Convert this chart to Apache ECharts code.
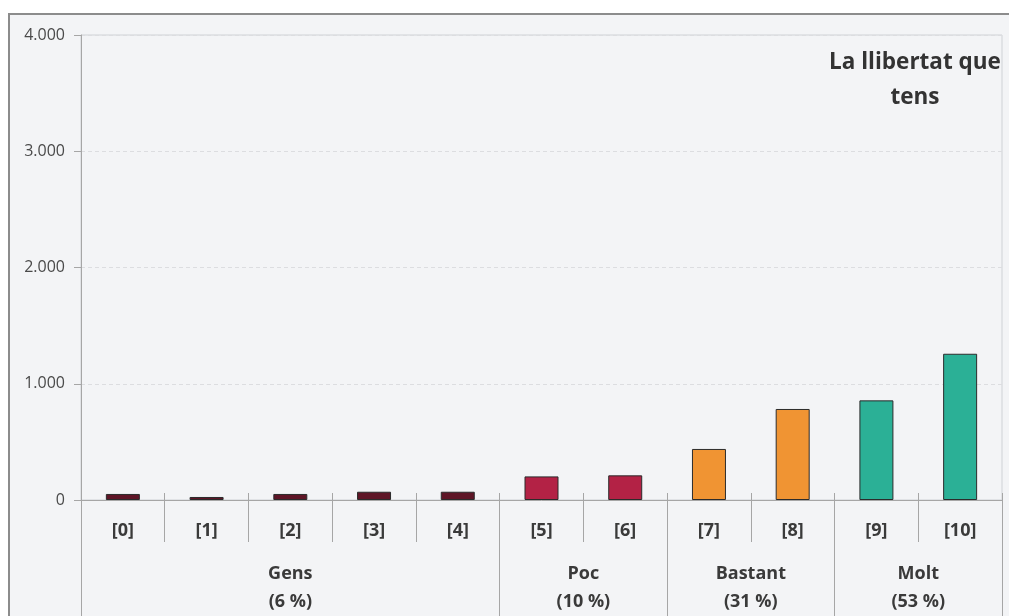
<!DOCTYPE html>
<html>
<head>
<meta charset="utf-8">
<script src="https://cdn.jsdelivr.net/npm/echarts@6/dist/echarts.min.js"></script>
<style>
  html, body { margin: 0; padding: 0; background: #ffffff; }
  #frame {
    position: absolute; left: 8px; top: 13px; width: 1010px; height: 610px;
    border-left: 2px solid #8c8c8c; border-top: 2px solid #8c8c8c;
    background: #f3f4f6;
  }
  #main { position: absolute; left: 0; top: 0; width: 1009px; height: 616px; }
</style>
</head>
<body>
<div id="frame"></div>
<div id="main"></div>
<script>
// categories (scores 0-10)
var categories = ['[0]', '[1]', '[2]', '[3]', '[4]', '[5]', '[6]', '[7]', '[8]', '[9]', '[10]'];
// number of answers per score
var values = [52, 26, 52, 71, 71, 203, 212, 439, 783, 857, 1258];
// group of each score
var groupOf = [0, 0, 0, 0, 0, 1, 1, 2, 2, 3, 3];
var groupNames = ['Gens', 'Poc', 'Bastant', 'Molt'];
var groupPct = ['6 %', '10 %', '31 %', '53 %'];
var groupColors = ['#5e1526', '#b32245', '#f09433', '#2bb096'];
// group limits on the category scale
var groupBounds = [0, 5, 7, 9, 11];
var yTicks = [0, 1000, 2000, 3000, 4000];

var groupCenters = [];
for (var g = 0; g < groupNames.length; g++) {
  groupCenters.push((groupBounds[g] + groupBounds[g + 1]) / 2);
}

var chart = echarts.init(document.getElementById('main'));

var fontLab = '"Open Sans", sans-serif';

chart.setOption({
  backgroundColor: 'transparent',
  animation: false,
  title: {
    text: 'La llibertat que\ntens',
    left: 910,
    top: 40,
    textAlign: 'center',
    textStyle: {
      fontFamily: fontLab,
      fontSize: 22.5,
      fontWeight: 'bold',
      lineHeight: 35,
      color: '#333333',
      align: 'center'
    }
  },
  grid: {
    left: 81,
    right: 7,
    top: 35,
    bottom: 116,
    show: true,
    borderColor: '#cfd2d6',
    borderWidth: 1
  },
  xAxis: [{
    // score labels
    type: 'category',
    data: categories,
    position: 'bottom',
    axisLine: { lineStyle: { color: '#a6a6a6', width: 1 } },
    axisTick: { show: true, interval: 0, length: 42, lineStyle: { color: '#a6a6a6' } },
    axisLabel: {
      interval: 0,
      margin: 22,
      fontFamily: fontLab,
      fontSize: 18,
      fontWeight: 'bold',
      color: '#3a3a3a'
    },
    splitLine: { show: false }
  }, {
    // small ticks above the axis
    type: 'category',
    data: categories,
    position: 'bottom',
    axisLine: { show: false },
    axisTick: { show: true, interval: 0, inside: true, length: 7, lineStyle: { color: '#a6a6a6' } },
    axisLabel: { show: false },
    splitLine: { show: false }
  }, {
    // groups
    type: 'value',
    min: 0,
    max: categories.length,
    position: 'bottom',
    axisLine: { show: false },
    axisTick: {
      show: true,
      customValues: groupBounds,
      length: 120,
      lineStyle: { color: '#a6a6a6' }
    },
    axisLabel: {
      customValues: groupCenters,
      margin: 60,
      fontFamily: fontLab,
      fontSize: 18,
      fontWeight: 'bold',
      lineHeight: 28,
      color: '#3a3a3a',
      formatter: function (v) {
        var i = groupCenters.indexOf(v);
        return groupNames[i] + '\n(' + groupPct[i] + ')';
      }
    },
    splitLine: { show: false }
  }],
  yAxis: {
    type: 'value',
    min: yTicks[0],
    max: yTicks[yTicks.length - 1],
    interval: 1000,
    axisLine: { show: true, lineStyle: { color: '#a6a6a6' } },
    axisTick: { show: true, length: 7, lineStyle: { color: '#a6a6a6' } },
    axisLabel: {
      margin: 16,
      fontFamily: '"Open Sans", sans-serif',
      fontSize: 16,
      color: '#4a4a4a',
      formatter: function (v) {
        return String(v).replace(/\B(?=(\d{3})+(?!\d))/g, '.');
      }
    },
    splitLine: { show: true, lineStyle: { color: '#dcdde0', type: [4, 3] } }
  },
  series: [{
    type: 'bar',
    xAxisIndex: 0,
    barWidth: 34,
    data: values.map(function (v, i) {
      return {
        value: v,
        itemStyle: {
          color: groupColors[groupOf[i]],
          borderColor: '#2b2b2b',
          borderWidth: 1
        }
      };
    })
  }]
});
</script>
</body>
</html>
